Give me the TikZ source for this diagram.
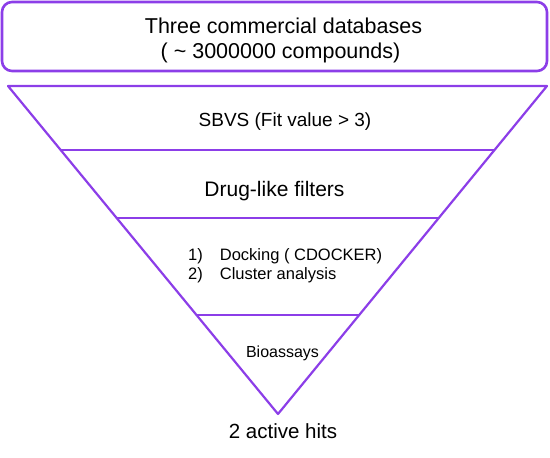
\documentclass[tikz,border=0pt]{standalone}
\usepackage{fontspec}
\setmainfont{Liberation Sans}
\usetikzlibrary{calc}
\definecolor{funnelpurple}{RGB}{140,62,232}

\begin{document}
\begin{tikzpicture}[x=1pt,y=-1pt,
    funnel/.style={draw=funnelpurple, line width=2.2pt, line join=round},
    lbl/.style={inner sep=0pt, anchor=base, text=black}]
            \useasboundingbox (0,0) rectangle (550,458);
            % source box
            \draw[funnel, line width=2.6pt, rounded corners=10pt] (2,2) rectangle (547,71);
            \node[lbl, font=\fontsize{21.5}{24}\selectfont] (src) at (283.5,33) {Three commercial databases};
            \node[lbl, font=\fontsize{21.5}{24}\selectfont] (count) at (280.5,58) {( \textasciitilde{} 3000000 compounds)};
            % funnel
            \coordinate (tl) at (8,86);
            \coordinate (tr) at (547,86);
            \coordinate (tip) at (278,414);
            \draw[funnel] (tl) -- (tr) -- (tip) -- cycle;
            \draw[funnel] ($(tl)!{64/328}!(tip)$) -- ($(tr)!{64/328}!(tip)$);
            \draw[funnel] ($(tl)!{132/328}!(tip)$) -- ($(tr)!{132/328}!(tip)$);
            \draw[funnel] ($(tl)!{229/328}!(tip)$) -- ($(tr)!{229/328}!(tip)$);
            \node[lbl, font=\fontsize{19}{22}\selectfont] (sbvs) at (285,126) {SBVS (Fit value > 3)};
            \node[lbl, font=\fontsize{21}{24}\selectfont] (drug) at (274.5,196) {Drug-like filters};
            \node[lbl, anchor=base west, font=\fontsize{16.5}{19}\selectfont] (dock) at (188,260)
                {1)\hspace{17pt}Docking ( CDOCKER)};
            \node[lbl, anchor=base west, font=\fontsize{16.5}{19}\selectfont] (clus) at (188,279)
                {2)\hspace{17pt}Cluster analysis};
            \node[lbl, font=\fontsize{16}{18}\selectfont] (bio) at (282.5,357) {Bioassays};
            \node[lbl, font=\fontsize{20.5}{24}\selectfont] (hits) at (283,438) {2 active hits};
        \end{tikzpicture}
\end{document}
